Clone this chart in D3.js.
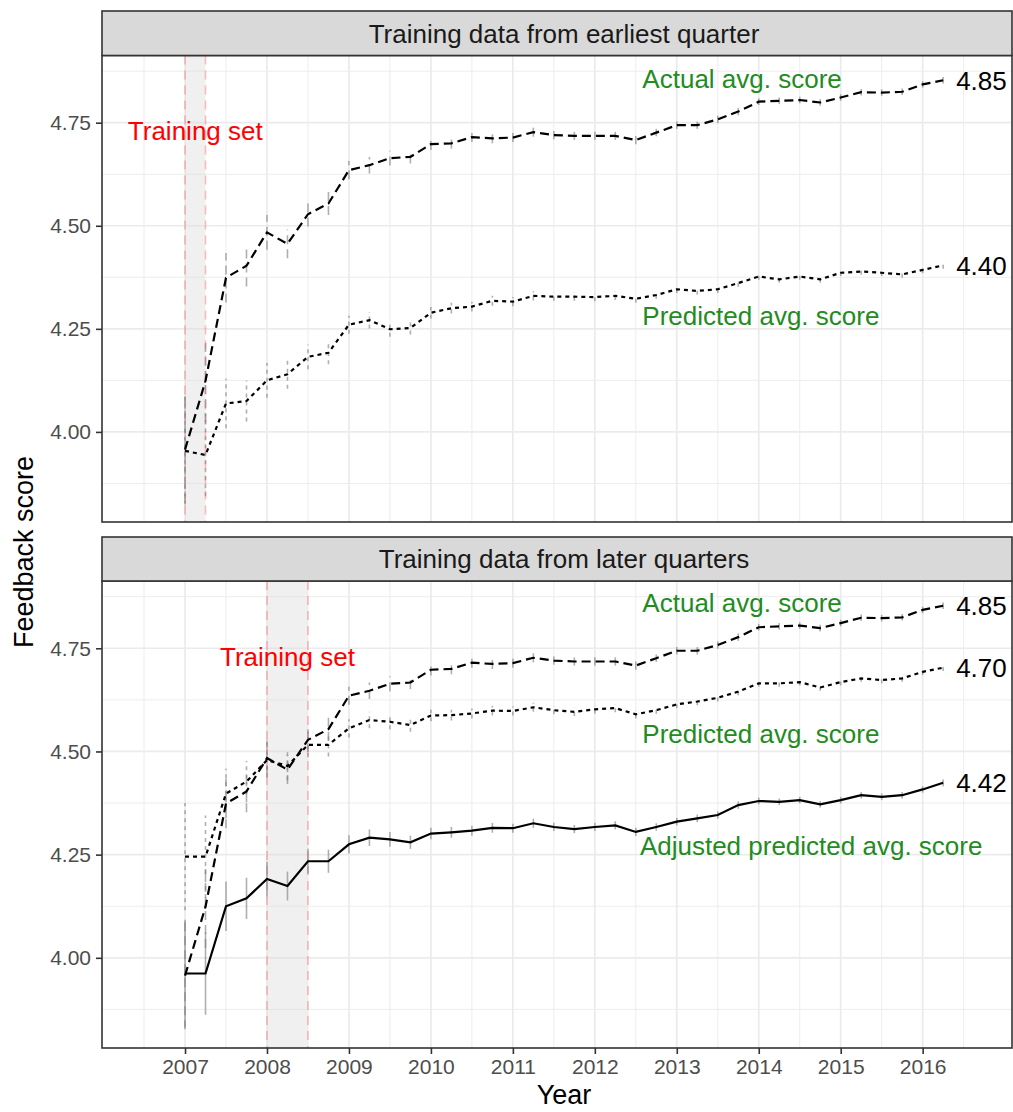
<!DOCTYPE html>
<html>
<head>
<meta charset="utf-8">
<script src="https://cdn.jsdelivr.net/npm/d3@7"></script>
<style>
  body { margin: 0; background: #fff; }
  svg text { font-family: "Liberation Sans", Arial, Helvetica, sans-serif; }
</style>
</head>
<body>
<svg id="chart" width="1013" height="1112"></svg>
<script>
// Quarterly time points (decimal years)
const quarters = [
  2007.00, 2007.25, 2007.50, 2007.75, 2008.00, 2008.25, 2008.50, 2008.75,
  2009.00, 2009.25, 2009.50, 2009.75, 2010.00, 2010.25, 2010.50, 2010.75,
  2011.00, 2011.25, 2011.50, 2011.75, 2012.00, 2012.25, 2012.50, 2012.75,
  2013.00, 2013.25, 2013.50, 2013.75, 2014.00, 2014.25, 2014.50, 2014.75,
  2015.00, 2015.25, 2015.50, 2015.75, 2016.00, 2016.25
];

// Observed average feedback score per quarter
const actualScore = [
  3.957, 4.124, 4.374, 4.403, 4.484, 4.456, 4.528, 4.554,
  4.635, 4.647, 4.664, 4.667, 4.698, 4.700, 4.715, 4.712,
  4.714, 4.727, 4.720, 4.718, 4.718, 4.718, 4.708, 4.726,
  4.744, 4.744, 4.758, 4.777, 4.801, 4.803, 4.805, 4.799,
  4.811, 4.824, 4.823, 4.825, 4.843, 4.853
];

// Model trained on the earliest quarter
const predictedEarliest = [
  3.954, 3.944, 4.069, 4.075, 4.125, 4.140, 4.182, 4.192,
  4.260, 4.271, 4.249, 4.252, 4.289, 4.300, 4.304, 4.318,
  4.316, 4.330, 4.328, 4.328, 4.327, 4.330, 4.323, 4.332,
  4.346, 4.342, 4.346, 4.361, 4.377, 4.370, 4.377, 4.370,
  4.386, 4.389, 4.386, 4.382, 4.393, 4.404
];

// Model trained on later quarters
const predictedLater = [
  4.245, 4.245, 4.398, 4.427, 4.479, 4.465, 4.516, 4.516,
  4.556, 4.576, 4.572, 4.564, 4.587, 4.588, 4.592, 4.599,
  4.598, 4.607, 4.600, 4.596, 4.602, 4.605, 4.590, 4.600,
  4.614, 4.621, 4.630, 4.645, 4.665, 4.665, 4.668, 4.655,
  4.668, 4.677, 4.673, 4.677, 4.693, 4.703
];

const adjustedLater = [
  3.962, 3.962, 4.125, 4.144, 4.191, 4.174, 4.234, 4.234,
  4.275, 4.291, 4.287, 4.280, 4.301, 4.304, 4.308, 4.315,
  4.314, 4.326, 4.317, 4.312, 4.317, 4.321, 4.305, 4.317,
  4.330, 4.338, 4.346, 4.370, 4.380, 4.378, 4.382, 4.372,
  4.382, 4.394, 4.390, 4.394, 4.408, 4.424
];

// Half-width of the uncertainty interval per quarter
const errorHalf = [
  0.130, 0.100, 0.060, 0.050, 0.042, 0.035, 0.030, 0.028,
  0.022, 0.020, 0.018, 0.016, 0.014, 0.013, 0.012, 0.012,
  0.011, 0.011, 0.010, 0.010, 0.010, 0.010, 0.010, 0.009,
  0.009, 0.009, 0.009, 0.009, 0.008, 0.008, 0.008, 0.008,
  0.008, 0.008, 0.008, 0.008, 0.008, 0.008
];

const facetTitles = ["Training data from earliest quarter", "Training data from later quarters"];
const trainingWindows = [[2007.00, 2007.25], [2008.00, 2008.50]];
const yTicks = [4.00, 4.25, 4.50, 4.75];
const xTicks = [2007, 2008, 2009, 2010, 2011, 2012, 2013, 2014, 2015, 2016];
const yMinorTicks = [3.875, 4.125, 4.375, 4.625, 4.875];
const xMinorTicks = [2006.5, 2007.5, 2008.5, 2009.5, 2010.5, 2011.5, 2012.5, 2013.5, 2014.5, 2015.5, 2016.5];

// Annotation anchors in data units
const seriesLabels = [
  [ { text: "Actual avg. score", x: 2012.58, y: 4.858 },
    { text: "Predicted avg. score", x: 2012.58, y: 4.281 } ],
  [ { text: "Actual avg. score", x: 2012.58, y: 4.860 },
    { text: "Predicted avg. score", x: 2012.58, y: 4.542 },
    { text: "Adjusted predicted avg. score", x: 2012.55, y: 4.271 } ]
];
const trainingLabelY = 4.73;

const panels = [
  { top: 55.5, bottom: 522, stripTop: 11, stripBottom: 55.5,
    series: [ { values: actualScore, dash: "9,5" },
              { values: predictedEarliest, dash: "4,4" } ] },
  { top: 581, bottom: 1048, stripTop: 537, stripBottom: 581,
    series: [ { values: actualScore, dash: "9,5" },
              { values: predictedLater, dash: "4,4" },
              { values: adjustedLater, dash: null } ] }
];

const left = 102, right = 1012, titleCentre = 564;
const svg = d3.select("#chart");
const x = d3.scaleLinear().domain([2005.987, 2017.09]).range([left, right]);
const fmt2 = d3.format(".2f");

panels.forEach((p, pi) => {
  const y = d3.scaleLinear().domain([3.7815, 4.913]).range([p.bottom, p.top]);
  const g = svg.append("g");

  // panel background
  g.append("rect").attr("x", left).attr("y", p.top)
    .attr("width", right - left).attr("height", p.bottom - p.top).attr("fill", "#fff");

  // grid
  const grid = g.append("g");
  grid.selectAll(".ymin").data(yMinorTicks).join("line")
    .attr("x1", left).attr("x2", right).attr("y1", d => y(d)).attr("y2", d => y(d))
    .attr("stroke", "#ebebeb").attr("stroke-width", 0.9);
  grid.selectAll(".xmin").data(xMinorTicks).join("line")
    .attr("y1", p.top).attr("y2", p.bottom).attr("x1", d => x(d)).attr("x2", d => x(d))
    .attr("stroke", "#ebebeb").attr("stroke-width", 0.9);
  grid.selectAll(".ymaj").data(yTicks).join("line")
    .attr("x1", left).attr("x2", right).attr("y1", d => y(d)).attr("y2", d => y(d))
    .attr("stroke", "#ebebeb").attr("stroke-width", 1.7);
  grid.selectAll(".xmaj").data(xTicks).join("line")
    .attr("y1", p.top).attr("y2", p.bottom).attr("x1", d => x(d)).attr("x2", d => x(d))
    .attr("stroke", "#ebebeb").attr("stroke-width", 1.7);

  // training window
  const tw = trainingWindows[pi];
  g.append("rect").attr("x", x(tw[0])).attr("y", p.top)
    .attr("width", x(tw[1]) - x(tw[0])).attr("height", p.bottom - p.top)
    .attr("fill", "#d9d9d9").attr("fill-opacity", 0.4);
  g.selectAll(".tw").data(tw).join("line")
    .attr("x1", d => x(d)).attr("x2", d => x(d)).attr("y1", p.top).attr("y2", p.bottom)
    .attr("stroke", "#ff0000").attr("stroke-opacity", 0.25).attr("stroke-width", 1.6)
    .attr("stroke-dasharray", "9,6");

  // error bars
  p.series.forEach(s => {
    g.append("g").selectAll("line").data(quarters).join("line")
      .attr("x1", d => x(d)).attr("x2", d => x(d))
      .attr("y1", (d, i) => y(s.values[i] - errorHalf[i]))
      .attr("y2", (d, i) => y(s.values[i] + errorHalf[i]))
      .attr("stroke", "#7a7a7a").attr("stroke-opacity", 0.6).attr("stroke-width", 1.6)
      .attr("stroke-dasharray", s.dash);
  });

  // series lines
  const line = d3.line().x((d, i) => x(quarters[i])).y(d => y(d));
  p.series.forEach(s => {
    g.append("path").datum(s.values).attr("d", line)
      .attr("fill", "none").attr("stroke", "#000").attr("stroke-width", 2.2)
      .attr("stroke-dasharray", s.dash);
  });

  // end-of-series value labels
  p.series.forEach(s => {
    const last = s.values[s.values.length - 1];
    g.append("text").attr("x", x(quarters[quarters.length - 1]) + 13).attr("y", y(last))
      .attr("dy", "0.36em").attr("font-size", 26).attr("fill", "#000")
      .text(fmt2(last));
  });

  // series annotations
  g.selectAll(".ann").data(seriesLabels[pi]).join("text")
    .attr("x", d => x(d.x)).attr("y", d => y(d.y)).attr("dy", "0.36em")
    .attr("font-size", 26).attr("fill", "#228b22").text(d => d.text);

  g.append("text").attr("x", x((tw[0] + tw[1]) / 2)).attr("y", y(trainingLabelY))
    .attr("dy", "0.36em").attr("text-anchor", "middle")
    .attr("font-size", 26).attr("fill", "#ff0000").text("Training set");

  // panel border
  g.append("rect").attr("x", left).attr("y", p.top)
    .attr("width", right - left).attr("height", p.bottom - p.top)
    .attr("fill", "none").attr("stroke", "#333").attr("stroke-width", 1.6);

  // strip
  g.append("rect").attr("x", left).attr("y", p.stripTop)
    .attr("width", right - left).attr("height", p.stripBottom - p.stripTop)
    .attr("fill", "#d9d9d9").attr("stroke", "#333").attr("stroke-width", 1.6);
  g.append("text").attr("x", titleCentre).attr("y", (p.stripTop + p.stripBottom) / 2)
    .attr("dy", "0.36em").attr("text-anchor", "middle").attr("font-size", 26)
    .attr("fill", "#1a1a1a").text(facetTitles[pi]);

  // y axis
  const ya = g.append("g").attr("transform", `translate(${left},0)`)
    .call(d3.axisLeft(y).tickValues(yTicks).tickFormat(fmt2).tickSize(6).tickPadding(5));
  ya.select(".domain").remove();
  ya.selectAll(".tick line").attr("stroke", "#333").attr("stroke-width", 1.6);
  ya.selectAll(".tick text").attr("font-size", 21).attr("fill", "#4d4d4d")
    .attr("font-family", "Liberation Sans, Arial, sans-serif");

  // x axis on the bottom panel only
  if (pi === panels.length - 1) {
    const xa = g.append("g").attr("transform", `translate(0,${p.bottom})`)
      .call(d3.axisBottom(x).tickValues(xTicks).tickFormat(d3.format("d")).tickSize(6).tickPadding(5));
    xa.select(".domain").remove();
    xa.selectAll(".tick line").attr("stroke", "#333").attr("stroke-width", 1.6);
    xa.selectAll(".tick text").attr("font-size", 21).attr("fill", "#4d4d4d")
      .attr("font-family", "Liberation Sans, Arial, sans-serif");
  }
});

// axis titles
svg.append("text").attr("x", titleCentre).attr("y", 1104).attr("text-anchor", "middle")
  .attr("font-size", 27).attr("fill", "#000").text("Year");
svg.append("text").attr("transform", "translate(33,552) rotate(-90)")
  .attr("text-anchor", "middle").attr("font-size", 27).attr("fill", "#000")
  .text("Feedback score");
</script>
</body>
</html>
